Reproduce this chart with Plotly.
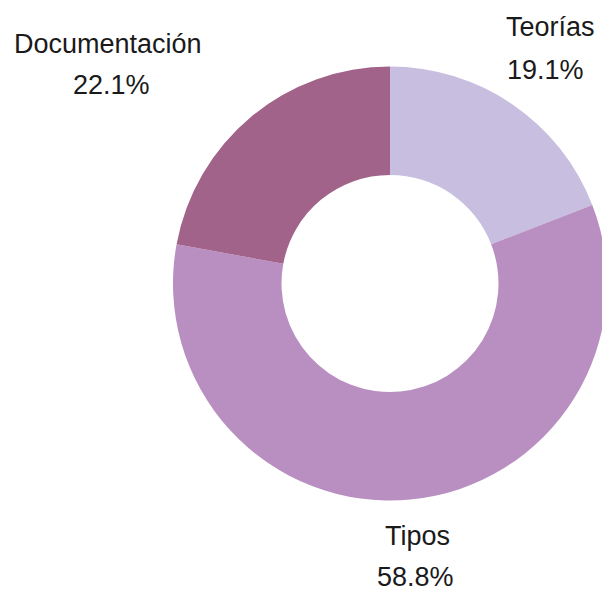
import plotly.graph_objects as go

categories = ["Teorías", "Tipos", "Documentación"]
values = [19.1, 58.8, 22.1]
colors = ["#C8BEE0", "#B88FC0", "#A16389"]

W, H = 612, 590
# label anchor positions (pixels) for name line and percent line
label_pos = {
    "Teorías": ((550, 27), (545, 70)),
    "Tipos": ((417, 536), (415, 577)),
    "Documentación": ((108, 44), (111, 85)),
}
# pie placement in pixels: centre and radius
cx, cy, r = 390, 283.5, 217

total = sum(values)
fig = go.Figure(go.Pie(
    labels=categories,
    values=values,
    marker=dict(colors=colors, line=dict(width=0)),
    hole=0.5,
    sort=False,
    direction="clockwise",
    rotation=0,
    textinfo="none",
    hoverinfo="label+percent",
    showlegend=False,
    domain=dict(x=[(cx - r) / W, (cx + r) / W], y=[1 - (cy + r) / H, 1 - (cy - r) / H]),
))

font = dict(family="Liberation Sans, Arial, sans-serif", size=27, color="#1a1a1a")
annotations = []
for cat, v in zip(categories, values):
    (nx, ny), (px_, py_) = label_pos[cat]
    annotations.append(dict(text=cat, x=nx / W, y=1 - ny / H, xref="paper", yref="paper",
                            showarrow=False, xanchor="center", yanchor="middle", font=font))
    annotations.append(dict(text=f"{100 * v / total:.1f}%", x=px_ / W, y=1 - py_ / H,
                            xref="paper", yref="paper", showarrow=False,
                            xanchor="center", yanchor="middle", font=font))

fig.update_layout(
    width=W, height=H,
    margin=dict(l=0, r=0, t=0, b=0),
    paper_bgcolor="white",
    plot_bgcolor="white",
    annotations=annotations,
)

fig.write_html(
    "out.html",
    config={"displayModeBar": False},
    post_script="document.body.style.margin='0';document.body.style.overflow='hidden';"
                "document.documentElement.style.overflow='hidden';",
)
